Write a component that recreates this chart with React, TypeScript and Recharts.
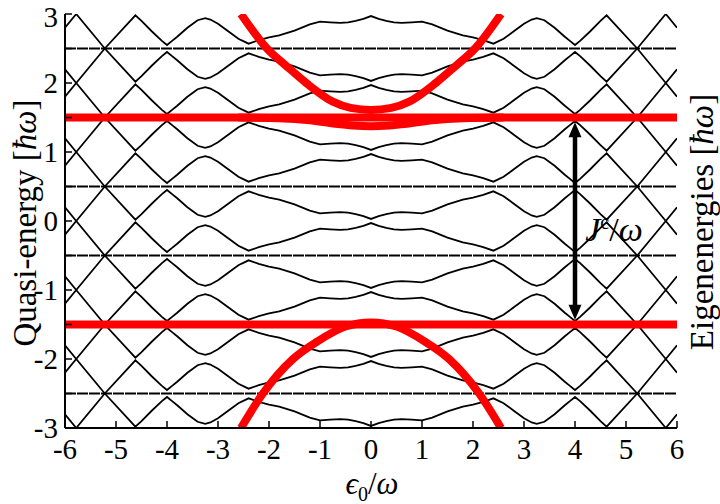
import React from "react";
import { LineChart, Line, XAxis, YAxis, ReferenceLine, ReferenceDot } from "recharts";

// detuning grid (eps0 / omega) and the half-splitting of each Floquet pair
const epsGrid = [
  -6, -5.78, -5.22, -4.62, -4.5, -4.3, -4.1, -4, -3.9, -3.8, -3.6, -3.4, -3.25, -3.15, -3, -2.8, -2.6, -2.4,
  -2.2, -2, -1.8, -1.5, -1.2, -1, -0.8, -0.6, -0.45, -0.3, -0.15, 0, 0.15, 0.3, 0.45, 0.6, 0.8, 1, 1.2, 1.5,
  1.8, 2, 2.2, 2.4, 2.6, 2.8, 3, 3.15, 3.25, 3.4, 3.6, 3.8, 3.9, 4, 4.1, 4.3, 4.5, 4.62, 5.22, 5.78, 6,
];
const splitting = [
  -0.7, -0.5, 0, 0.48, 0.4, 0.25, 0.11, 0.05, 0.11, 0.17, 0.3, 0.41, 0.44, 0.42, 0.36, 0.25, 0.14, 0.07,
  0.12, 0.16, 0.19, 0.26, 0.35, 0.39, 0.38, 0.37, 0.38, 0.4, 0.43, 0.47, 0.43, 0.4, 0.38, 0.37, 0.38, 0.39,
  0.35, 0.26, 0.19, 0.16, 0.12, 0.07, 0.14, 0.25, 0.36, 0.42, 0.44, 0.41, 0.3, 0.17, 0.11, 0.05, 0.11, 0.25,
  0.4, 0.48, 0, -0.5, -0.7,
];
// photon-replica centres (quasi-energy is defined mod hbar*omega)
const floquetLevels = [-3.5, -2.5, -1.5, -0.5, 0.5, 1.5, 2.5, 3.5];
const flatLevels = [-2.5, -1.5, -0.5, 0.5, 1.5, 2.5];

// eigenenergies (red)
const upperEps = [-2.55, -2.04, -1.65, -1.27, -0.75, -0.4, 0, 0.4, 0.75, 1.27, 1.65, 2.04, 2.55];
const upperE = [3.0, 2.5, 2.24, 2.0, 1.73, 1.64, 1.61, 1.64, 1.73, 2.0, 2.24, 2.5, 3.0];
const lowerEps = [-2.55, -2.12, -1.53, -1.06, -0.5, 0, 0.5, 1.06, 1.53, 2.12, 2.55];
const lowerE = [-3.0, -2.5, -2.0, -1.75, -1.53, -1.47, -1.53, -1.75, -2.0, -2.5, -3.0];
const dipEps = [-2.6, -1.8, -1.2, -0.7, -0.35, 0, 0.35, 0.7, 1.2, 1.8, 2.6];
const dipE = [1.5, 1.49, 1.46, 1.41, 1.385, 1.375, 1.385, 1.41, 1.46, 1.49, 1.5];
const redLevels = [-1.5, 1.5];

const arrowEps = 4;
const arrowEnds = [-1.43, 1.43];

const xTicks = [-6, -5, -4, -3, -2, -1, 0, 1, 2, 3, 4, 5, 6];
const yTicks = [-3, -2.5, -2, -1.5, -1, -0.5, 0, 0.5, 1, 1.5, 2, 2.5, 3];

const rows = epsGrid.map((x, i) => {
  const row: Record<string, number> = { x };
  floquetLevels.forEach((lv, k) => {
    row[`u${k}`] = lv + splitting[i];
    row[`d${k}`] = lv - splitting[i];
  });
  return row;
});

const toPts = (xs: number[], ys: number[]) => xs.map((x, i) => ({ x, y: ys[i] }));

const serif = "'Liberation Serif', 'DejaVu Serif', serif";
const RED = "#ff0000";

const ArrowHead = (dir: number) => (props: any) => {
  const { cx, cy } = props;
  const h = 15;
  const w = 6.5;
  return (
    <polygon
      points={`${cx},${cy} ${cx - w},${cy + dir * h} ${cx + w},${cy + dir * h}`}
      fill="#000"
    />
  );
};

export default function App() {
  const tickStyle = { fontSize: 29, fill: "#000", fontFamily: serif };
  return (
    <div style={{ position: "absolute", left: 0, top: 0, width: 720, height: 504, background: "#fff" }}>
      <LineChart width={720} height={504} data={rows} margin={{ top: 14, right: 43, bottom: 0, left: 8 }}>
        <XAxis
          type="number"
          dataKey="x"
          domain={[-6, 6]}
          ticks={xTicks}
          allowDataOverflow
          height={76}
          tickSize={-7}
          tickMargin={17}
          tick={tickStyle}
          axisLine={{ stroke: "#000", strokeWidth: 2 }}
          tickLine={{ stroke: "#000", strokeWidth: 1.5 }}
        />
        <XAxis
          xAxisId="top"
          orientation="top"
          type="number"
          dataKey="x"
          domain={[-6, 6]}
          ticks={xTicks}
          allowDataOverflow
          height={0}
          tickSize={-7}
          tick={false}
          axisLine={{ stroke: "#000", strokeWidth: 2 }}
          tickLine={{ stroke: "#000", strokeWidth: 1.5 }}
        />
        <YAxis
          type="number"
          domain={[-3, 3]}
          ticks={yTicks}
          allowDataOverflow
          width={57}
          tickSize={-7}
          tickMargin={14}
          tick={tickStyle}
          tickFormatter={(v: number) => (Number.isInteger(v) ? String(v) : "")}
          axisLine={{ stroke: "#000", strokeWidth: 2 }}
          tickLine={{ stroke: "#000", strokeWidth: 1.5 }}
        />
        <YAxis
          yAxisId="right"
          orientation="right"
          type="number"
          domain={[-3, 3]}
          ticks={yTicks}
          allowDataOverflow
          width={0}
          tickSize={-7}
          tick={false}
          axisLine={{ stroke: "#000", strokeWidth: 2 }}
          tickLine={{ stroke: "#000", strokeWidth: 1.5 }}
        />

        {flatLevels.map((lv) => (
          <ReferenceLine key={`f${lv}`} y={lv} stroke="#000" strokeWidth={2.2} strokeDasharray="11 1" />
        ))}

        {floquetLevels.map((_, k) => (
          <Line
            key={`u${k}`}
            dataKey={`u${k}`}
            type="linear"
            stroke="#000"
            strokeWidth={1.8}
            dot={false}
            isAnimationActive={false}
          />
        ))}
        {floquetLevels.map((_, k) => (
          <Line
            key={`d${k}`}
            dataKey={`d${k}`}
            type="linear"
            stroke="#000"
            strokeWidth={1.8}
            dot={false}
            isAnimationActive={false}
          />
        ))}

        {redLevels.map((lv) => (
          <ReferenceLine key={`r${lv}`} y={lv} stroke={RED} strokeWidth={8} />
        ))}
        <Line
          data={toPts(dipEps, dipE)}
          dataKey="y"
          type="monotone"
          stroke={RED}
          strokeWidth={8}
          dot={false}
          isAnimationActive={false}
        />
        <Line
          data={toPts(upperEps, upperE)}
          dataKey="y"
          type="monotone"
          stroke={RED}
          strokeWidth={8}
          dot={false}
          isAnimationActive={false}
        />
        <Line
          data={toPts(lowerEps, lowerE)}
          dataKey="y"
          type="monotone"
          stroke={RED}
          strokeWidth={8}
          dot={false}
          isAnimationActive={false}
        />

        <ReferenceLine
          segment={[
            { x: arrowEps, y: arrowEnds[0] + 0.15 },
            { x: arrowEps, y: arrowEnds[1] - 0.15 },
          ]}
          stroke="#000"
          strokeWidth={4.5}
        />
        <ReferenceDot x={arrowEps} y={arrowEnds[1]} r={1} shape={ArrowHead(1)} />
        <ReferenceDot x={arrowEps} y={arrowEnds[0]} r={1} shape={ArrowHead(-1)} />
      </LineChart>

      <div
        style={{
          position: "absolute",
          left: 25,
          top: 223,
          transform: "translate(-50%, -50%) rotate(-90deg)",
          whiteSpace: "nowrap",
          fontFamily: serif,
          fontSize: 33,
        }}
      >
        Quasi-energy [<i>ħω</i>]
      </div>
      <div
        style={{
          position: "absolute",
          left: 702,
          top: 222,
          transform: "translate(-50%, -50%) rotate(-90deg)",
          whiteSpace: "nowrap",
          fontFamily: serif,
          fontSize: 33,
        }}
      >
        Eigenenergies [<i>ħω</i>]
      </div>
      <div
        style={{
          position: "absolute",
          left: 372,
          top: 486,
          transform: "translate(-50%, -50%)",
          whiteSpace: "nowrap",
          fontFamily: serif,
          fontSize: 31,
        }}
      >
        <i>ϵ</i>
        <sub style={{ fontSize: 20 }}>0</sub>/<i>ω</i>
      </div>
      <div
        style={{
          position: "absolute",
          left: 614,
          top: 230,
          transform: "translate(-50%, -50%)",
          whiteSpace: "nowrap",
          fontFamily: serif,
          fontSize: 34,
        }}
      >
        <i>J</i>
        <sup style={{ fontSize: 20 }}>c</sup>/<i>ω</i>
      </div>
    </div>
  );
}
